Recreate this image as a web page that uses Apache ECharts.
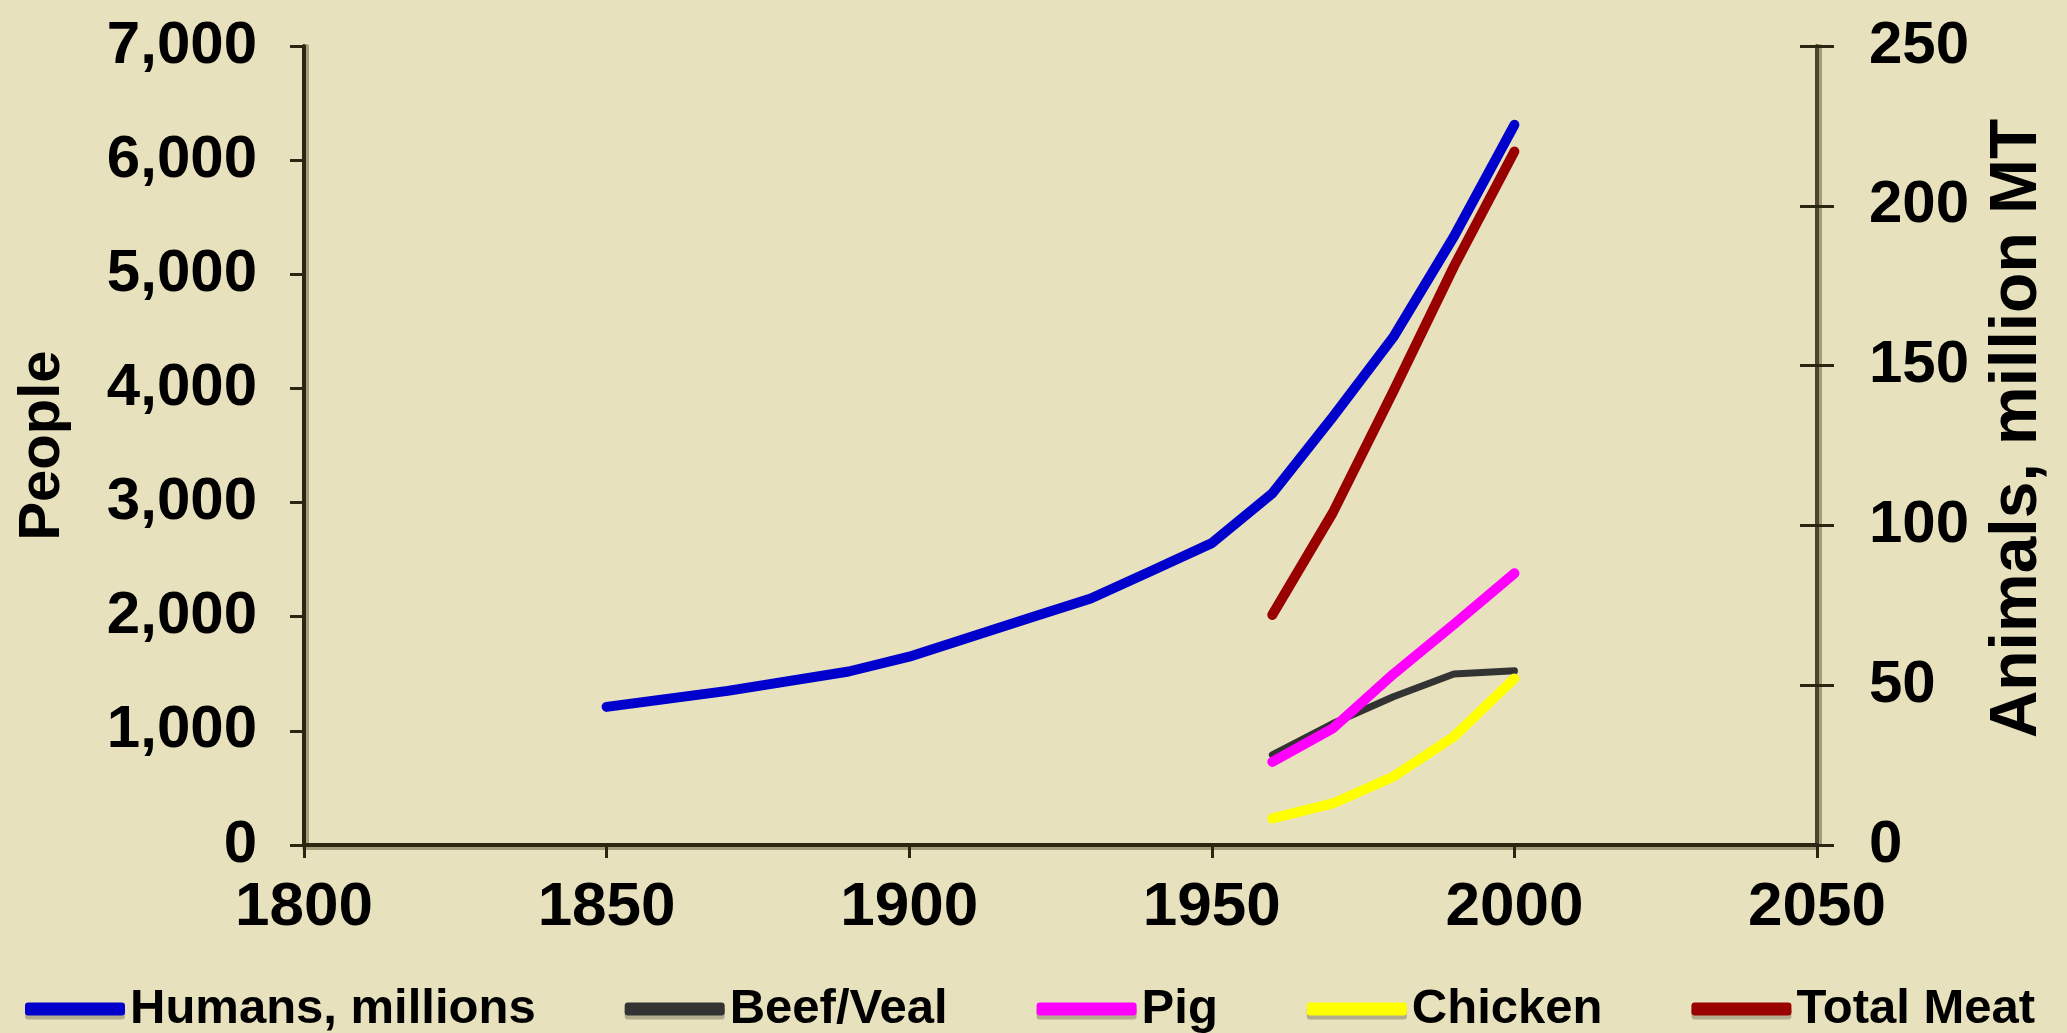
<!DOCTYPE html>
<html>
<head>
<meta charset="utf-8">
<style>
  html, body { margin: 0; padding: 0; background: #E8E1BD; }
  #chart { width: 2067px; height: 1033px; }
</style>
<script src="https://cdn.jsdelivr.net/npm/echarts@6/dist/echarts.min.js"></script>
</head>
<body>
<div id="chart"></div>
<script>
// World population (millions) and meat production (million metric tonnes)
const humanYears   = [1850, 1870, 1890, 1900, 1910, 1920, 1930, 1940, 1950, 1960, 1970, 1980, 1990, 2000];
const humansValues = [1210, 1350, 1520, 1650, 1820, 1990, 2160, 2400, 2645, 3080, 3750, 4450, 5330, 6310];

const meatYears    = [1960, 1970, 1980, 1990, 2000];
const beefValues    = [28.2, 38, 46.4, 53.5, 54.5];
const pigValues     = [26, 36.5, 53.5, 69, 85];
const chickenValues = [8.3, 13, 21.4, 33.9, 52.1];
const totalValues   = [72, 104, 142, 181, 217];

const seriesNames = ['Humans, millions', 'Beef/Veal', 'Pig', 'Chicken', 'Total Meat'];
const seriesColors = ['#0000CC', '#333333', '#FF00FF', '#FFFF00', '#990000'];

const xTicks = { min: 1800, max: 2050, interval: 50 };
const leftTicks = { min: 0, max: 7000, interval: 1000 };
const rightTicks = { min: 0, max: 250, interval: 50 };

const pairs = (xs, ys) => xs.map((x, i) => [x, ys[i]]);

const FONT = '"Liberation Sans", Arial, sans-serif';
const AXIS_DARK = '#2B2612';
const AXIS_SHADOW = 'rgba(110, 100, 70, 0.55)';

const chart = echarts.init(document.getElementById('chart'), null, { renderer: 'canvas' });

const lineSeries = (idx, data, axis, width) => ({
  name: seriesNames[idx],
  type: 'line',
  yAxisIndex: axis,
  data: data,
  symbol: 'none',
  smooth: false,
  lineStyle: { color: seriesColors[idx], width: width, cap: 'round', join: 'round' },
  itemStyle: { color: seriesColors[idx] },
  z: 2 + idx
});

chart.setOption({
  backgroundColor: '#E8E1BD',
  animation: false,
  textStyle: { fontFamily: FONT },
  grid: { left: 304, right: 250, top: 46, bottom: 188, containLabel: false },
  legend: {
    data: seriesNames,
    left: 20,
    top: 976,
    icon: 'roundRect',
    itemWidth: 100,
    itemHeight: 13,
    itemGap: 89,
    itemStyle: { shadowColor: 'rgba(60, 50, 30, 0.3)', shadowOffsetY: 4, shadowBlur: 0 },
    textStyle: {
      fontFamily: FONT, fontSize: 49, fontWeight: 'bold', color: '#000',
      lineHeight: 56
    }
  },
  xAxis: {
    type: 'value',
    min: xTicks.min, max: xTicks.max, interval: xTicks.interval,
    axisLine: {
      show: true, onZero: false,
      lineStyle: { color: AXIS_DARK, width: 4, shadowColor: AXIS_SHADOW, shadowOffsetY: 3 }
    },
    axisTick: { show: true, length: 13, lineStyle: { color: AXIS_DARK, width: 3 } },
    axisLabel: {
      margin: 32, fontSize: 62, fontWeight: 'bold', color: '#000', fontFamily: FONT,
      formatter: v => String(v)
    },
    splitLine: { show: false }
  },
  yAxis: [
    {
      type: 'value',
      position: 'left',
      min: leftTicks.min, max: leftTicks.max, interval: leftTicks.interval,
      name: 'People',
      nameLocation: 'middle',
      nameRotate: 90,
      nameGap: 232,
      nameTextStyle: { fontSize: 58, fontWeight: 'bold', color: '#000', fontFamily: FONT },
      axisLine: {
        show: true,
        lineStyle: { color: AXIS_DARK, width: 4, shadowColor: AXIS_SHADOW, shadowOffsetX: 3 }
      },
      axisTick: { show: true, length: 14, lineStyle: { color: AXIS_DARK, width: 3 } },
      axisLabel: { margin: 47, fontSize: 60, fontWeight: 'bold', color: '#000', fontFamily: FONT },
      splitLine: { show: false }
    },
    {
      type: 'value',
      position: 'right',
      min: rightTicks.min, max: rightTicks.max, interval: rightTicks.interval,
      name: 'Animals, million MT',
      nameLocation: 'middle',
      nameRotate: 90,
      nameGap: 168,
      nameTextStyle: {
        fontSize: 66, fontWeight: 'bold', color: '#000', fontFamily: FONT,
        padding: [0, 0, 0, 34]
      },
      axisLine: {
        show: true,
        lineStyle: { color: '#4A4430', width: 4, shadowColor: AXIS_SHADOW, shadowOffsetX: 3 }
      },
      axisTick: { show: true, length: 17, lineStyle: { color: AXIS_DARK, width: 3 } },
      axisLabel: { margin: 52, fontSize: 60, fontWeight: 'bold', color: '#000', fontFamily: FONT },
      splitLine: { show: false }
    },
    {
      // inner half of the crossing ticks on the right axis
      type: 'value',
      position: 'right',
      min: rightTicks.min, max: rightTicks.max, interval: rightTicks.interval,
      axisLine: { show: false },
      axisTick: { show: true, inside: true, length: 17, lineStyle: { color: AXIS_DARK, width: 3 } },
      axisLabel: { show: false },
      splitLine: { show: false }
    }
  ],
  series: [
    lineSeries(0, pairs(humanYears, humansValues), 0, 10),
    lineSeries(1, pairs(meatYears, beefValues), 1, 7),
    lineSeries(2, pairs(meatYears, pigValues), 1, 10),
    lineSeries(3, pairs(meatYears, chickenValues), 1, 10),
    lineSeries(4, pairs(meatYears, totalValues), 1, 10)
  ]
});
</script>
</body>
</html>
